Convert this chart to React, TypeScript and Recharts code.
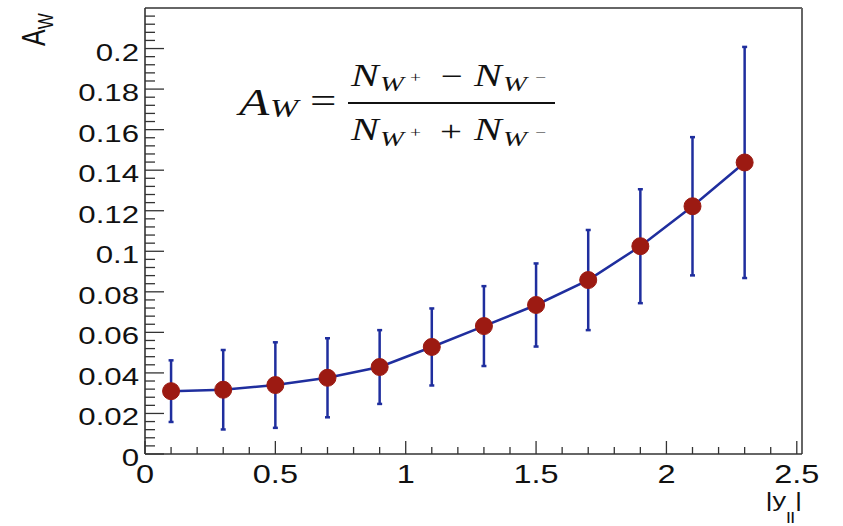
import React from 'react';
import { ComposedChart, Line, XAxis, YAxis, ErrorBar, ReferenceLine, Customized } from 'recharts';

// Data
const rapidity = [0.1, 0.3, 0.5, 0.7, 0.9, 1.1, 1.3, 1.5, 1.7, 1.9, 2.1, 2.3];
const asymmetry = [0.031, 0.0317, 0.034, 0.0376, 0.0429, 0.0528, 0.0631, 0.0735, 0.0858, 0.1025, 0.1222, 0.1438];
const asymErr = [0.0152, 0.0196, 0.0211, 0.0195, 0.0182, 0.019, 0.0197, 0.0205, 0.0247, 0.0281, 0.0341, 0.057];

const xMajorTicks = [0, 0.5, 1, 1.5, 2, 2.5];
const yMajorTicks = [0, 0.02, 0.04, 0.06, 0.08, 0.1, 0.12, 0.14, 0.16, 0.18, 0.2];
const xDomain = [0, 2.52];
const yDomain = [0, 0.22];

// minor tick grids (axis decoration only)
const xAllTicks: number[] = [];
for (let i = 0; i <= 25; i++) xAllTicks.push(Math.round(i * 100) / 1000);
const yAllTicks: number[] = [];
for (let i = 0; i <= 54; i++) yAllTicks.push(Math.round(i * 4) / 1000);

const data = rapidity.map((x, i) => ({ x, a: asymmetry[i], err: asymErr[i] }));

const BLUE = '#1f2e9e';
const RED = '#9c1a12';
const AXIS = '#333';
const INK = '#111';
const SANS = '"Liberation Sans", Arial, Helvetica, sans-serif';
const SERIF = '"Liberation Serif", "Times New Roman", serif';
const SX = 1.3; // horizontal stretch of the reference's lettering

const isMajor = (v: number, list: number[]) => list.some((m) => Math.abs(m - v) < 1e-6);

const ST = ({ x, y, sx = SX, children, ...rest }: any) => (
  <text transform={`translate(${x} ${y}) scale(${sx} 1)`} {...rest}>
    {children}
  </text>
);

const XTick = (props: any) => {
  const { x, y, payload } = props;
  const v = payload.value;
  const major = isMajor(v, xMajorTicks);
  return (
    <g>
      <line x1={x} x2={x} y1={y} y2={y - (major ? 13 : 7)} stroke={AXIS} strokeWidth={1.3} />
      {major && (
        <ST x={x} y={y + 29} textAnchor="middle" fontSize={25} fontFamily={SANS} fill={INK}>
          {String(v)}
        </ST>
      )}
    </g>
  );
};

const YTick = (props: any) => {
  const { x, y, payload } = props;
  const v = payload.value;
  const major = isMajor(v, yMajorTicks);
  return (
    <g>
      <line x1={x} x2={x + (major ? 19 : 10)} y1={y} y2={y} stroke={AXIS} strokeWidth={1.3} />
      {major && (
        <ST x={x - 6} y={y + 12} textAnchor="end" fontSize={24} fontFamily={SANS} fill={INK}>
          {String(v)}
        </ST>
      )}
    </g>
  );
};

const Formula = () => (
  <g fontFamily={SERIF} fill={INK}>
    <ST x={239} y={115} fontSize={38} fontStyle="italic">A</ST>
    <ST x={270} y={117} fontSize={26} fontStyle="italic">W</ST>
    <ST x={310} y={113} fontSize={36}>=</ST>
    <line x1={348} x2={555} y1={103} y2={103} stroke={INK} strokeWidth={2} />
    {/* numerator */}
    <ST x={351} y={86} fontSize={32} fontStyle="italic">N</ST>
    <ST x={380} y={91} fontSize={22} fontStyle="italic">W</ST>
    <ST x={410} y={82} fontSize={15}>+</ST>
    <ST x={441} y={86} fontSize={30}>−</ST>
    <ST x={474} y={86} fontSize={32} fontStyle="italic">N</ST>
    <ST x={503} y={91} fontSize={22} fontStyle="italic">W</ST>
    <ST x={535} y={82} fontSize={15}>−</ST>
    {/* denominator */}
    <ST x={351} y={140} fontSize={32} fontStyle="italic">N</ST>
    <ST x={380} y={146} fontSize={22} fontStyle="italic">W</ST>
    <ST x={410} y={137} fontSize={15}>+</ST>
    <ST x={440} y={141} fontSize={30}>+</ST>
    <ST x={474} y={140} fontSize={32} fontStyle="italic">N</ST>
    <ST x={503} y={146} fontSize={22} fontStyle="italic">W</ST>
    <ST x={535} y={137} fontSize={15}>−</ST>
  </g>
);

const AxisTitles = () => (
  <g fontFamily={SANS} fill={INK}>
    <text transform={`translate(45 46) scale(${SX} 1) rotate(-90)`} fontSize={25}>
      A
      <tspan fontSize={17} dy={6}>W</tspan>
    </text>
    <ST x={802} y={507} fontSize={21} textAnchor="end">
      |y
      <tspan fontSize={15} dy={16}>ll</tspan>
      <tspan dy={-16}>|</tspan>
    </ST>
  </g>
);

export default function App() {
  return (
    <div style={{ position: 'absolute', left: 0, top: 0, width: 843, height: 526, background: '#fff' }}>
      <ComposedChart
        width={843}
        height={526}
        data={data}
        margin={{ top: 8, right: 41, bottom: 0, left: 0 }}
      >
        <XAxis
          dataKey="x"
          type="number"
          domain={xDomain}
          ticks={xAllTicks}
          interval={0}
          tickSize={0}
          tickMargin={0}
          tickLine={false}
          height={72}
          axisLine={{ stroke: AXIS, strokeWidth: 1.6 }}
          tick={<XTick />}
          allowDataOverflow
        />
        <YAxis
          type="number"
          domain={yDomain}
          ticks={yAllTicks}
          interval={0}
          tickSize={0}
          tickMargin={0}
          tickLine={false}
          width={145}
          axisLine={{ stroke: AXIS, strokeWidth: 1.6 }}
          tick={<YTick />}
          allowDataOverflow
        />
        <ReferenceLine y={0.22} stroke="#666" strokeWidth={2} ifOverflow="visible" />
        <ReferenceLine x={2.52} stroke="#666" strokeWidth={2} ifOverflow="visible" />
        <Line
          dataKey="a"
          stroke={BLUE}
          strokeWidth={2.5}
          isAnimationActive={false}
          dot={{ r: 8.5, fill: RED, stroke: RED, strokeWidth: 1 }}
          activeDot={false}
        >
          <ErrorBar dataKey="err" stroke={BLUE} strokeWidth={2.5} width={2.5} isAnimationActive={false} />
        </Line>
        <Customized component={Formula} />
        <Customized component={AxisTitles} />
      </ComposedChart>
    </div>
  );
}
